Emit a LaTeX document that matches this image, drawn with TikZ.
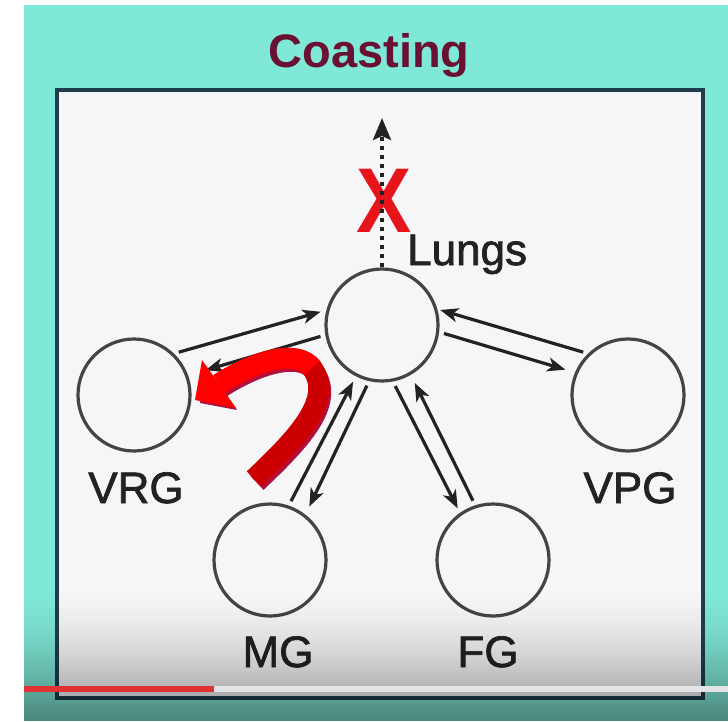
\documentclass[tikz,border=0pt]{standalone}
\usepackage{fontspec}
\usepackage{graphicx}
\setmainfont{Liberation Sans}
\newfontfamily\lblfont{Liberation Sans}[BoldFont={Liberation Sans}, BoldFeatures={FakeBold=1.6}]
\usetikzlibrary{arrows.meta}
\definecolor{tealbg}{HTML}{80E8D6}
\definecolor{boxfill}{HTML}{F6F6F8}
\definecolor{boxline}{HTML}{1F3D4E}
\definecolor{cgray}{HTML}{444444}
\definecolor{cdark}{HTML}{222222}
\definecolor{ctitle}{HTML}{6A1033}
\definecolor{xred}{HTML}{E8141C}
\definecolor{redA}{HTML}{FF0000}
\definecolor{redB}{HTML}{CC0000}
\definecolor{redS}{HTML}{B01040}
\definecolor{barred}{HTML}{E03232}
\definecolor{bargray}{HTML}{E4E4E6}
\begin{document}
\begin{tikzpicture}[x=1pt,y=-1pt,
  circ/.style={circle, draw=cgray, line width=3.2pt, minimum size=112pt, inner sep=0pt},
  conn/.style={draw=cdark, line width=3.2pt, -{Stealth[length=18pt,width=14pt,inset=5pt]}, shorten <=5pt, shorten >=6pt},
  lbl/.style={font=\lblfont\bfseries\fontsize{44}{44}\selectfont, text=cdark, anchor=base, inner sep=0pt},
  dotline/.style={draw=cdark, line width=3.5pt, dash pattern=on 4pt off 5pt, -{Stealth[length=22pt,width=18pt,inset=4pt]}}
]
\useasboundingbox (0,0) rectangle (728,721);
% background
\fill[white] (0,0) rectangle (728,721);
\fill[tealbg] (24,5) rectangle (728,721);
\draw[boxline, line width=4pt, fill=boxfill] (57,90) rectangle (703,698);

% title
\node[anchor=base, inner sep=0pt, font=\bfseries\fontsize{47}{47}\selectfont, text=ctitle] (title) at (369,67) {Coasting};

% circles
\node[circ] (L) at (382,325) {};
\node[circ] (VRG) at (134,395) {};
\node[circ] (VPG) at (628,395) {};
\node[circ] (MG) at (270,560) {};
\node[circ] (FG) at (493,560) {};

% labels
\node[lbl, anchor=base west] (lL) at (407,265) {Lungs};
\node[lbl] (lVRG) at (136,503) {VRG};
\node[lbl] (lVPG) at (630,503) {VPG};
\node[lbl] (lMG) at (278,667) {MG};
\node[lbl] (lFG) at (488,667) {FG};

% connectors
\draw[conn] (VRG.46) -- (L.165);
\draw[conn, shorten >=18pt] (L.190) -- (VRG.20);
\draw[conn, shorten >=3pt] (VPG.134) -- (L.16);
\draw[conn, shorten >=10pt] (L.-7) -- (VPG.157);
\draw[conn] (MG.71) -- (L.243);
\draw[conn, shorten >=9pt] (L.257) -- (MG.52);
\draw[conn, shorten >=5pt] (L.281) -- (FG.125);
\draw[conn, shorten >=9pt] (FG.108) -- (L.300);

% red X and dotted arrow
\node[anchor=base, inner sep=0pt, font=\bfseries\fontsize{92}{92}\selectfont, text=xred] (X) at (384,232) {\scalebox{0.9}[1]{X}};
\coordinate (up) at (382,118);
\draw[dotline] (L.north) -- (up);

% red curved arrow
\begin{scope}[shift={(3,4)}]
  \draw[redS, line width=19pt] (254,479) .. controls (295,440) and (335,400) .. (312,368) .. controls (298,350) and (260,358) .. (219,384);
  \fill[redS] (197,399) -- (203,362) -- (234,406) -- cycle;
\end{scope}
\draw[redB, line width=21pt] (254,479) .. controls (295,440) and (335,400) .. (312,368) .. controls (298,350) and (260,358) .. (219,384);
\draw[redA, line width=21pt] (312,368) .. controls (298,350) and (260,358) .. (219,384);
\fill[redA] (195,400) -- (202,360) -- (236,408) -- cycle;

% bottom darkening
\foreach \i in {0,...,64}{
  \pgfmathsetmacro\op{0.42*pow((\i+0.5)/65,1.6)}
  \fill[black, fill opacity=\op] (24,{590+2*\i}) rectangle (728,{592+2*\i});
}
\fill[black, fill opacity=0.42] (24,720) rectangle (728,721);
% progress bar
\fill[bargray] (214,686) rectangle (728,692);
\fill[barred] (24,686) rectangle (214,692);
\end{tikzpicture}
\end{document}
